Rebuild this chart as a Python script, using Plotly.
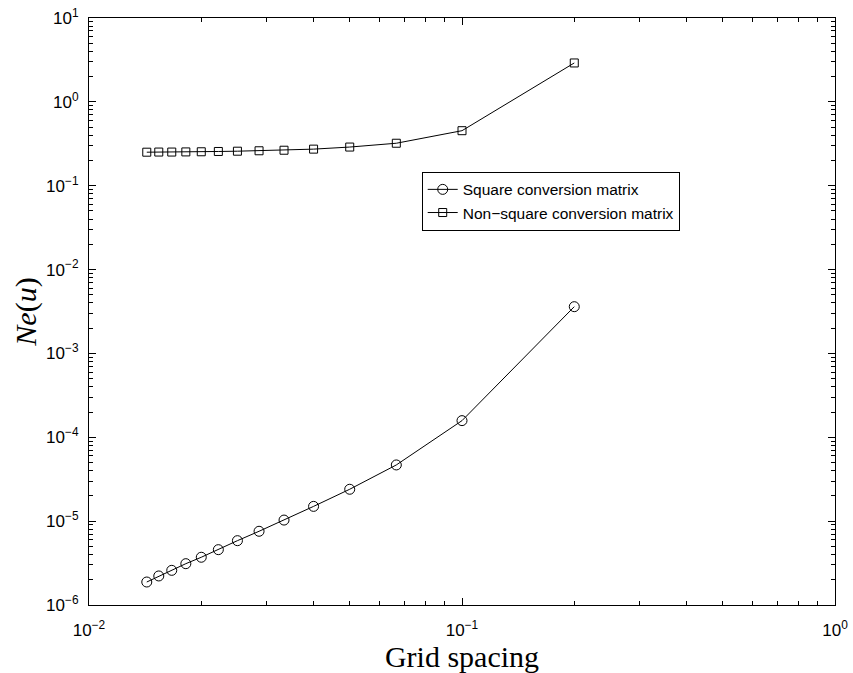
import plotly.graph_objects as go

# Data
grid_spacing = [1/5, 1/10, 1/15, 1/20, 1/25, 1/30, 1/35, 1/40, 1/45, 1/50, 1/55, 1/60, 1/65, 1/70]
square_err = [3.61e-3, 1.58e-4, 4.68e-5, 2.40e-5, 1.50e-5, 1.03e-5, 7.57e-6, 5.85e-6,
              4.57e-6, 3.71e-6, 3.11e-6, 2.59e-6, 2.22e-6, 1.88e-6]
nonsquare_err = [2.91, 0.453, 0.321, 0.289, 0.273, 0.265, 0.261, 0.258,
                 0.256, 0.254, 0.253, 0.252, 0.252, 0.251]
series_names = ["Square conversion matrix", "Non\u2212square conversion matrix"]

x_decades = [-2, -1, 0]
y_decades = [-6, -5, -4, -3, -2, -1, 0, 1]
x_tickvals = [10.0 ** d for d in x_decades]
x_ticktext = ["10<sup>%s</sup>" % str(d).replace("-", "\u2212") for d in x_decades]
y_tickvals = [10.0 ** d for d in y_decades]
y_ticktext = ["10<sup>%s</sup>" % str(d).replace("-", "\u2212") for d in y_decades]
x_minor = [m * 10.0 ** d for d in x_decades[:-1] for m in range(2, 10)]
y_minor = [m * 10.0 ** d for d in y_decades[:-1] for m in range(2, 10)]

fig = go.Figure()
fig.add_trace(go.Scatter(
    x=grid_spacing, y=square_err, name=series_names[0], mode="lines+markers",
    line=dict(color="black", width=1),
    marker=dict(symbol="circle-open", size=10, color="black", line=dict(width=1, color="black")),
))
fig.add_trace(go.Scatter(
    x=grid_spacing, y=nonsquare_err, name=series_names[1], mode="lines+markers",
    line=dict(color="black", width=1),
    marker=dict(symbol="square-open", size=8, color="black", line=dict(width=1, color="black")),
))

tickfont = dict(family="Liberation Sans, Arial, sans-serif", size=17, color="black")
axis_common = dict(
    type="log", showgrid=False, zeroline=False, automargin=False,
    showline=True, linecolor="black", linewidth=1, mirror="allticks",
    ticks="inside", ticklen=7, tickcolor="black", tickwidth=1,
    tickfont=tickfont, layer="above traces",
)

fig.update_xaxes(
    **axis_common, range=[-2, 0], tickmode="array", tickvals=x_tickvals, ticktext=x_ticktext,
    ticklabelstandoff=10,
    minor=dict(ticks="inside", ticklen=4, tickcolor="black", tickwidth=1, showgrid=False,
               tickmode="array", tickvals=x_minor),
    title=dict(text="Grid spacing", font=dict(family="Liberation Serif, serif", size=30, color="black"), standoff=0),
)
fig.update_yaxes(
    **axis_common, range=[-6, 1], tickmode="array", tickvals=y_tickvals, ticktext=y_ticktext,
    ticklabelstandoff=6,
    minor=dict(ticks="inside", ticklen=4, tickcolor="black", tickwidth=1, showgrid=False,
               tickmode="array", tickvals=y_minor),
    title=dict(text="<i>Ne</i>(<i>u</i>)", font=dict(family="Liberation Serif, serif", size=30, color="black"), standoff=0),
)

fig.update_layout(
    width=853, height=673,
    margin=dict(l=89, r=18, t=18, b=68),
    paper_bgcolor="white", plot_bgcolor="white",
    showlegend=True,
    legend=dict(
        x=0.446, y=0.738, xanchor="left", yanchor="top",
        bgcolor="white", bordercolor="black", borderwidth=1,
        font=dict(family="Liberation Sans, Arial, sans-serif", size=15.5, color="black"),
        itemwidth=30, tracegroupgap=0,
    ),
)

fig.write_html("out.html")
